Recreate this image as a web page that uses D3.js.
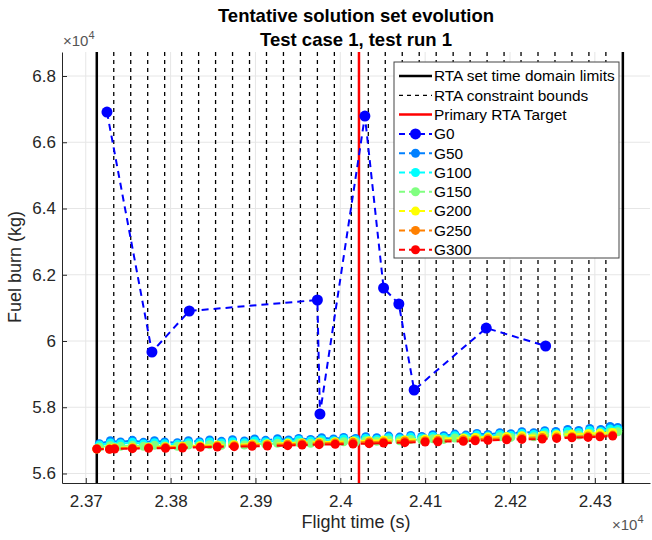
<!DOCTYPE html>
<html>
<head>
<meta charset="utf-8">
<script src="https://cdn.jsdelivr.net/npm/d3@7"></script>
<style>
  body { margin: 0; background: #fff; }
  text { font-family: "Liberation Sans", Arial, sans-serif; }
</style>
</head>
<body>
<div id="chart"></div>
<script>
// flight time (s) and fuel burn (kg) per generation
var tG0 = [23725, 23778, 23822, 23973, 23976, 24029, 24051, 24069, 24087, 24172, 24242];
var vG0 = [66913, 59668, 60906, 61238, 57796, 66792, 61600, 61117, 58521, 60392, 59849];

var tMid = [23716, 23729, 23741, 23755, 23768, 23781, 23793, 23808, 23821, 23834, 23846, 23860,
            23873, 23887, 23899, 23912, 23926, 23939, 23951, 23965, 23978, 23992, 24004, 24018,
            24030, 24043, 24057, 24070, 24083, 24096, 24109, 24122, 24135, 24148, 24161, 24174,
            24188, 24201, 24214, 24228, 24241, 24254, 24268, 24281, 24294, 24307, 24318, 24327];
var vG50 = [56900, 56990, 56950, 57000, 56940, 56990, 56950, 56930, 56990, 56960, 57010, 56970,
            57020, 56980, 57040, 57000, 57050, 57010, 57060, 57030, 57080, 57040, 57090, 57060,
            57110, 57080, 57130, 57100, 57150, 57120, 57170, 57140, 57190, 57160, 57210, 57180,
            57230, 57200, 57260, 57230, 57290, 57270, 57330, 57300, 57360, 57330, 57420, 57390];
var vG100 = [56860, 56920, 56900, 56940, 56890, 56930, 56900, 56880, 56930, 56910, 56950, 56920,
             56960, 56930, 56980, 56950, 56990, 56960, 57010, 56980, 57020, 56990, 57040, 57010,
             57060, 57030, 57080, 57050, 57100, 57070, 57120, 57090, 57140, 57110, 57160, 57130,
             57180, 57150, 57210, 57180, 57240, 57210, 57270, 57240, 57300, 57270, 57340, 57330];
var vG150 = [56800, 56840, 56820, 56850, 56820, 56850, 56830, 56820, 56860, 56840, 56870, 56850,
             56880, 56860, 56900, 56880, 56910, 56890, 56930, 56910, 56950, 56930, 56960, 56950,
             56990, 56970, 57010, 56990, 57030, 57010, 57050, 57030, 57070, 57050, 57090, 57070,
             57110, 57090, 57130, 57110, 57160, 57140, 57180, 57160, 57210, 57190, 57250, 57260];

var tLate = [23713, 23728, 23734, 23755, 23774, 23794, 23814, 23835, 23855, 23875, 23896, 23914,
             23938, 23955, 23975, 23994, 24015, 24034, 24051, 24076, 24100, 24115, 24145, 24159,
             24174, 24196, 24214, 24238, 24255, 24273, 24292, 24306, 24321];
var vG200 = [56740, 56760, 56780, 56790, 56800, 56810, 56830, 56840, 56860, 56870, 56890, 56900,
             56920, 56930, 56950, 56960, 56980, 56990, 57010, 57020, 57040, 57050, 57070, 57090,
             57100, 57120, 57140, 57150, 57170, 57190, 57200, 57220, 57240];
var vG250 = [56750, 56740, 56760, 56770, 56780, 56790, 56800, 56810, 56830, 56840, 56860, 56870,
             56880, 56900, 56910, 56920, 56940, 56950, 56960, 56980, 56990, 57000, 57020, 57030,
             57050, 57060, 57070, 57090, 57100, 57110, 57130, 57140, 57160];
var vG300 = [56740, 56730, 56740, 56750, 56760, 56760, 56770, 56790, 56800, 56810, 56820, 56830,
             56840, 56860, 56870, 56880, 56890, 56900, 56920, 56930, 56950, 56960, 56970, 56990,
             57000, 57020, 57030, 57040, 57060, 57080, 57090, 57110, 57130];

var domainLimits = [23713, 24333];
var rtaTarget = 24022;
var boundTimes = [23733, 23753, 23773, 23793, 23813, 23833, 23853, 23873, 23893, 23913,
                  23933, 23953, 23973, 23993, 24013, 24033, 24053, 24073, 24093, 24113,
                  24133, 24153, 24173, 24193, 24213, 24233, 24253, 24273, 24293, 24313];

var xTicks = [23700, 23800, 23900, 24000, 24100, 24200, 24300];
var yTicks = [56000, 58000, 60000, 62000, 64000, 66000, 68000];

var series = [
  { name: 'G0',   t: tG0,   v: vG0,   color: '#0000ff', r: 5.5 },
  { name: 'G50',  t: tMid,  v: vG50,  color: '#0080ff', r: 4.5 },
  { name: 'G100', t: tMid,  v: vG100, color: '#00ffff', r: 4.5 },
  { name: 'G150', t: tMid,  v: vG150, color: '#80ff80', r: 4.5 },
  { name: 'G200', t: tLate, v: vG200, color: '#ffff00', r: 4.5 },
  { name: 'G250', t: tLate, v: vG250, color: '#ff8000', r: 4.5 },
  { name: 'G300', t: tLate, v: vG300, color: '#ff0000', r: 4.5 }
];

document.addEventListener("DOMContentLoaded", function() {
  drawChart();
});

function drawChart() {
  const width = 652;
  const height = 540;
  const margin = { top: 52, bottom: 57, left: 62, right: 2 };
  const axisCol = '#262626';

  const svg = d3.select('#chart')
    .append('svg')
    .attr('width', width)
    .attr('height', height);

  const x = d3.scaleLinear()
    .domain([23672, 24365])
    .range([margin.left, width - margin.right]);

  const y = d3.scaleLinear()
    .domain([55713, 68725])
    .range([height - margin.bottom, margin.top]);

  // grid
  svg.append("g").selectAll("line")
    .data(xTicks)
    .join("line")
      .attr("x1", d => x(d)).attr("x2", d => x(d))
      .attr("y1", margin.top).attr("y2", height - margin.bottom)
      .attr("stroke", "#e6e6e6");
  svg.append("g").selectAll("line")
    .data(yTicks)
    .join("line")
      .attr("x1", margin.left).attr("x2", width - margin.right)
      .attr("y1", d => y(d)).attr("y2", d => y(d))
      .attr("stroke", "#e6e6e6");

  // constraint bounds
  svg.append("g").selectAll("line")
    .data(boundTimes)
    .join("line")
      .attr("x1", d => x(d)).attr("x2", d => x(d))
      .attr("y1", margin.top).attr("y2", height - margin.bottom)
      .attr("stroke", "#000")
      .attr("stroke-width", 1.3)
      .attr("stroke-dasharray", "4,4");

  // domain limits
  svg.append("g").selectAll("line")
    .data(domainLimits)
    .join("line")
      .attr("x1", d => x(d)).attr("x2", d => x(d))
      .attr("y1", margin.top).attr("y2", height - margin.bottom)
      .attr("stroke", "#000")
      .attr("stroke-width", 2.5);

  // primary target
  svg.append("line")
    .attr("x1", x(rtaTarget)).attr("x2", x(rtaTarget))
    .attr("y1", margin.top).attr("y2", height - margin.bottom)
    .attr("stroke", "#ff0000")
    .attr("stroke-width", 2.5);

  const line = d3.line()
    .x(d => x(d[0]))
    .y(d => y(d[1]));

  series.forEach(s => {
    const pts = s.t.map((t, i) => [t, s.v[i]]);
    const g = svg.append("g");
    g.append("path")
      .datum(pts)
      .attr("d", line)
      .attr("fill", "none")
      .attr("stroke", s.color)
      .attr("stroke-width", 2)
      .attr("stroke-dasharray", "7,5");
    g.selectAll("circle")
      .data(pts)
      .join("circle")
        .attr("cx", d => x(d[0]))
        .attr("cy", d => y(d[1]))
        .attr("r", s.r)
        .attr("fill", s.color);
  });

  // axes
  function xAxis(g) {
    g.attr("transform", `translate(0,${height - margin.bottom})`)
      .call(d3.axisBottom(x).tickValues(xTicks).tickSizeInner(-5).tickSizeOuter(0)
        .tickFormat(d => d3.format(".2~f")(d / 1e4)))
      .attr("font-size", '17px')
      .attr("font-family", '"Liberation Sans", Arial, sans-serif');
    g.select(".domain").attr("stroke", axisCol);
    g.selectAll(".tick line").attr("stroke", axisCol);
    g.selectAll(".tick text").attr("fill", axisCol).attr("y", 12);
  }
  function yAxis(g) {
    g.attr("transform", `translate(${margin.left},0)`)
      .call(d3.axisLeft(y).tickValues(yTicks).tickSizeInner(-5).tickSizeOuter(0)
        .tickFormat(d => d3.format(".1~f")(d / 1e4)))
      .attr("font-size", '17px')
      .attr("font-family", '"Liberation Sans", Arial, sans-serif');
    g.select(".domain").attr("stroke", axisCol);
    g.selectAll(".tick line").attr("stroke", axisCol);
    g.selectAll(".tick text").attr("fill", axisCol).attr("x", -6);
  }
  svg.append("g").call(xAxis);
  svg.append("g").call(yAxis);

  // exponent labels
  const e1 = svg.append("text").attr("x", 63).attr("y", 46)
    .attr("font-size", "15px").attr("fill", "#555");
  e1.append("tspan").text("×10");
  e1.append("tspan").attr("dy", -7).attr("font-size", "11px").text("4");
  const e2 = svg.append("text").attr("x", 612).attr("y", 530)
    .attr("font-size", "15px").attr("fill", "#555");
  e2.append("tspan").text("×10");
  e2.append("tspan").attr("dy", -7).attr("font-size", "11px").text("4");

  // titles
  svg.append("text").attr("x", 356).attr("y", 22)
    .attr("text-anchor", "middle").attr("font-weight", "bold")
    .attr("font-size", "18.5px").attr("fill", "#000")
    .text("Tentative solution set evolution");
  svg.append("text").attr("x", 356).attr("y", 46)
    .attr("text-anchor", "middle").attr("font-weight", "bold")
    .attr("font-size", "18.5px").attr("fill", "#000")
    .text("Test case 1, test run 1");

  svg.append("text").attr("x", 356).attr("y", 528)
    .attr("text-anchor", "middle").attr("font-size", "18px").attr("fill", axisCol)
    .text("Flight time (s)");
  svg.append("text")
    .attr("transform", "translate(21,267) rotate(-90)")
    .attr("text-anchor", "middle").attr("font-size", "18px").attr("fill", axisCol)
    .text("Fuel burn (kg)");

  // legend
  const lg = svg.append("g").attr("transform", "translate(394,62)");
  lg.append("rect")
    .attr("width", 225).attr("height", 196)
    .attr("fill", "#fff").attr("stroke", "#444").attr("stroke-width", 1);
  const items = [
    { name: 'RTA set time domain limits', color: '#000', dash: null, w: 2.5 },
    { name: 'RTA constraint bounds', color: '#000', dash: "4,4", w: 1.3 },
    { name: 'Primary RTA Target', color: '#ff0000', dash: null, w: 2.5 }
  ].concat(series.map(s => ({ name: s.name, color: s.color, dash: "6,4", w: 2, r: s.r })));
  const rows = lg.selectAll("g.item")
    .data(items)
    .join("g")
      .attr("transform", (d, i) => `translate(0,${14 + i * 19.3})`);
  rows.append("line")
    .attr("x1", 5).attr("x2", 38)
    .attr("stroke", d => d.color)
    .attr("stroke-width", d => d.w)
    .attr("stroke-dasharray", d => d.dash);
  rows.filter(d => d.r).append("circle")
    .attr("cx", 21.5).attr("r", d => d.r).attr("fill", d => d.color);
  rows.append("text")
    .attr("x", 40).attr("dy", "0.35em")
    .attr("font-size", "15.4px").attr("fill", "#000")
    .text(d => d.name);
}
</script>
</body>
</html>
